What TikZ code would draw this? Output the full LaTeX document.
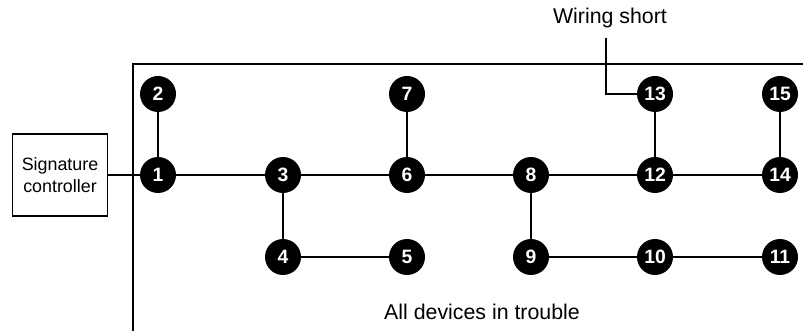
\documentclass[tikz,border=0pt]{standalone}
\usepackage{fontspec}
\setmainfont{Liberation Sans}
\usepackage{tikz}
\usetikzlibrary{positioning}
\tikzset{
  dev/.style={circle, fill=black, text=white, inner sep=0pt, minimum size=27pt, font=\fontsize{14.5}{16}\selectfont\bfseries},
  ctrl/.style={draw, line width=0.8pt, minimum width=71pt, minimum height=61.5pt, align=center, inner sep=0pt, font=\fontsize{13.4}{16.5}\selectfont},
  lbl/.style={font=\fontsize{16}{18}\selectfont, inner sep=0pt},
  wire/.style={line width=0.8pt},
}
\begin{document}
\begin{tikzpicture}[x=0.75pt,y=-0.75pt]
\useasboundingbox (0,0) rectangle (803,331);
% ---------------- frame round the devices
\coordinate (fbl) at (133,331);
\coordinate (ftr) at (803,64);
\draw[wire] (fbl) |- (ftr);
% ---------------- devices
\foreach \n/\x/\y in {1/158/175, 2/158/94, 3/283/175, 4/283/257, 5/407/257,
  6/407/175, 7/407/94, 8/531/175, 9/531/257, 10/655/257, 11/780/257,
  12/655/175, 13/655/94, 14/780/175, 15/780/94}
  \node[dev] (n\n) at (\x,\y) {\n};
\node[ctrl] (sc) at (60,175) {Signature\\controller};
% ---------------- wiring
\draw[wire] (sc.east) -- (n1);
\foreach \a/\b in {1/2, 1/3, 3/6, 6/7, 3/4, 4/5, 6/8, 8/9, 8/12, 9/10, 10/11, 12/13, 12/14, 14/15}
  \draw[wire] (n\a) -- (n\b);
% ---------------- labels
\node[lbl, anchor=base] (ws) at (610,24) {Wiring short};
\coordinate (lead) at (606,38);
\draw[wire] (lead) |- (n13.west);
\node[lbl, anchor=base] (adt) at (482,320) {All devices in trouble};
\end{tikzpicture}
\end{document}
